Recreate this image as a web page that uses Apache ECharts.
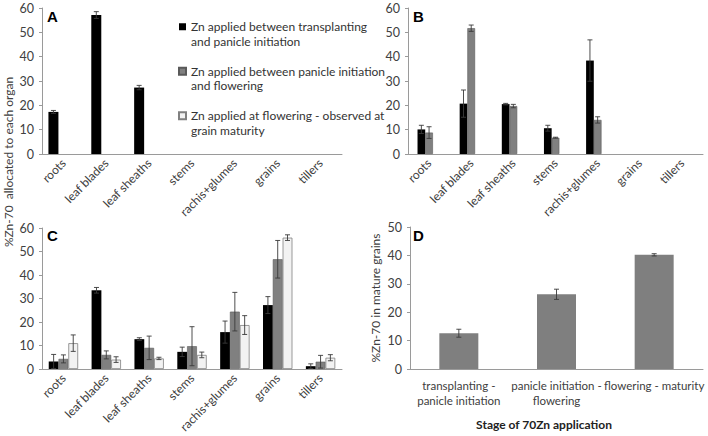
<!DOCTYPE html>
<html><head><meta charset="utf-8">
<script src="https://cdn.jsdelivr.net/npm/echarts@6/dist/echarts.min.js"></script>
<style>html,body{margin:0;padding:0;background:#fff}#c{width:708px;height:436px}</style>
</head><body><div id="c"></div>
<script>
// ---- data ----
const organs = ['roots', 'leaf blades', 'leaf sheaths', 'stems', 'rachis+glumes', 'grains', 'tillers'];
const seriesNames = [
  'Zn applied between transplanting and panicle initiation',
  'Zn applied between panicle initiation and flowering',
  'Zn applied at flowering - observed at grain maturity'
];
const legendLines = [
  ['Zn applied between transplanting', 'and panicle initiation'],
  ['Zn applied between panicle initiation', 'and flowering'],
  ['Zn applied at flowering - observed at', 'grain maturity']
];
const yTicks60 = [0, 10, 20, 30, 40, 50, 60];
const yTicks50 = [0, 10, 20, 30, 40, 50];

// Panel A
const A_black = [17.3, 57.1, 27.3, null, null, null, null];
const A_blackErr = [0.6, 1.4, 0.9, null, null, null, null];
const A_gray = [null, null, null, null, null, null, null];
const A_white = [null, null, null, null, null, null, null];

// Panel B
const B_black = [10.1, 20.7, 20.5, 10.6, 38.4, null, null];
const B_blackErr = [1.7, 5.6, 0.3, 1.2, 8.5, null, null];
const B_gray = [8.8, 51.7, 19.7, 6.7, 14.0, null, null];
const B_grayErr = [2.4, 1.3, 0.7, 0.2, 1.3, null, null];
const B_white = [null, null, null, null, null, null, null];

// Panel C
const C_black = [3.2, 33.5, 12.7, 7.3, 15.7, 27.2, 1.2];
const C_blackErr = [3.0, 1.2, 0.6, 2.0, 4.7, 3.6, 1.0];
const C_gray = [4.3, 6.0, 9.0, 9.7, 24.4, 46.7, 3.1];
const C_grayErr = [1.7, 1.7, 5.0, 8.3, 8.2, 8.0, 2.7];
const C_white = [11.0, 4.0, 4.5, 6.0, 18.7, 55.9, 4.8];
const C_whiteErr = [3.5, 1.2, 0.5, 1.2, 4.0, 1.2, 1.3];

// Panel D
const stages = ['transplanting -\npanicle initiation', 'panicle initiation -\nflowering', 'flowering - maturity'];
const D_values = [12.6, 26.3, 40.2];
const D_err = [1.4, 1.8, 0.4];

// ---- styling ----
const FONT = 'Lato';
const TXT = '#404040';
const AX = '#9a9a9a';
const barStyles = [
  { color: '#000000' },
  { color: '#808080', borderColor: '#5a5a5a', borderWidth: 0.6 },
  { color: '#f2f2f2', borderColor: '#808080', borderWidth: 0.8 }
];

const grids = [
  { left: 42, top: 8, width: 300, height: 146 },
  { left: 408, top: 8, width: 295, height: 146 },
  { left: 42, top: 228, width: 300, height: 141 },
  { left: 410, top: 227, width: 293, height: 142 }
];

function xCat(gi, data, isD) {
  return {
    type: 'category', gridIndex: gi, data: data,
    axisLine: { lineStyle: { color: AX, width: 1 } },
    axisTick: { length: 4, lineStyle: { color: AX } },
    axisLabel: isD ? { interval: 0, fontSize: 11.5, lineHeight: 15, color: TXT, margin: 9, fontFamily: FONT, hideOverlap: false }
                   : { interval: 0, rotate: 45, fontSize: 12, color: TXT, margin: 7, fontFamily: FONT }
  };
}
function yVal(gi, max, extra) {
  return Object.assign({
    type: 'value', gridIndex: gi, min: 0, max: max, interval: 10,
    axisLine: { show: true, lineStyle: { color: AX, width: 1 } },
    axisTick: { show: true, length: 3, lineStyle: { color: AX } },
    splitLine: { show: false },
    axisLabel: { fontSize: 12.5, color: TXT, margin: 8, fontFamily: FONT }
  }, extra || {});
}

function barSeries(gi, idx, values, bw) {
  return {
    type: 'bar', name: seriesNames[idx], xAxisIndex: gi, yAxisIndex: gi,
    data: values, barWidth: bw, barGap: '0%', itemStyle: barStyles[idx],
    animation: false, z: 2
  };
}
function errSeries(gi, idx, n, values, errs, bw) {
  const data = [];
  values.forEach((v, i) => { if (v != null && errs[i] != null) data.push([i, v, errs[i]]); });
  return {
    type: 'custom', xAxisIndex: gi, yAxisIndex: gi, data: data, z: 5, animation: false,
    encode: { x: 0, y: 1 }, clip: false,
    renderItem: function (params, api) {
      const i = api.value(0), v = api.value(1), e = api.value(2);
      const p = api.coord([i, v]);
      const x = p[0] + (idx - (n - 1) / 2) * bw;
      const top = api.coord([i, v + e])[1];
      const bot = api.coord([i, Math.max(v - e, 0)])[1];
      const cap = 2.5;
      const st = { stroke: '#3a3a3a', lineWidth: 0.9 };
      return {
        type: 'group', children: [
          { type: 'line', shape: { x1: x, y1: top, x2: x, y2: bot }, style: st },
          { type: 'line', shape: { x1: x - cap, y1: top, x2: x + cap, y2: top }, style: st },
          { type: 'line', shape: { x1: x - cap, y1: bot, x2: x + cap, y2: bot }, style: st }
        ]
      };
    }
  };
}

const series = [];
// A
const bwA = 10;
[A_black, A_gray, A_white].forEach((d, k) => series.push(barSeries(0, k, d, bwA)));
series.push(errSeries(0, 0, 3, A_black, A_blackErr, bwA));
// B
const bwB = 7.7;
[B_black, B_gray, B_white].forEach((d, k) => series.push(barSeries(1, k, d, bwB)));
series.push(errSeries(1, 0, 3, B_black, B_blackErr, bwB));
series.push(errSeries(1, 1, 3, B_gray, B_grayErr, bwB));
// C
const bwC = 9.8;
[C_black, C_gray, C_white].forEach((d, k) => series.push(barSeries(2, k, d, bwC)));
series.push(errSeries(2, 0, 3, C_black, C_blackErr, bwC));
series.push(errSeries(2, 1, 3, C_gray, C_grayErr, bwC));
series.push(errSeries(2, 2, 3, C_white, C_whiteErr, bwC));
// D
const bwD = 39;
series.push({
  type: 'bar', name: 'stage', xAxisIndex: 3, yAxisIndex: 3, data: D_values, barWidth: bwD,
  itemStyle: { color: '#7f7f7f' }, animation: false, z: 2
});
series.push(errSeries(3, 0, 1, D_values, D_err, bwD));

const chart = echarts.init(document.getElementById('c'), null, { renderer: 'svg' });
chart.setOption({
  animation: false,
  backgroundColor: '#ffffff',
  textStyle: { fontFamily: FONT },
  grid: grids,
  xAxis: [xCat(0, organs), xCat(1, organs), xCat(2, organs), xCat(3, stages, true)],
  yAxis: [
    yVal(0, 60), yVal(1, 60), yVal(2, 60),
    yVal(3, 50, {
      name: '%Zn-70 in mature grains', nameLocation: 'middle', nameRotate: 90, nameGap: 29,
      nameTextStyle: { fontSize: 12, color: TXT, fontFamily: FONT }
    })
  ],
  legend: {
    data: seriesNames, orient: 'vertical', left: 178, top: 5, padding: 0,
    itemWidth: 7, itemHeight: 7, itemGap: 1, icon: 'rect',
    selectedMode: false,
    textStyle: { fontSize: 12, lineHeight: 14.5, color: '#333', fontFamily: FONT },
    formatter: function (name) {
      const k = seriesNames.indexOf(name);
      return '\u00a0\n' + legendLines[k].join('\n');
    }
  },
  graphic: [
    { type: 'text', left: 47, top: 9, style: { text: 'A', font: 'bold 15px Arial', fill: '#000' } },
    { type: 'text', left: 413, top: 9, style: { text: 'B', font: 'bold 15px Arial', fill: '#000' } },
    { type: 'text', left: 47, top: 228, style: { text: 'C', font: 'bold 15px Arial', fill: '#000' } },
    { type: 'text', left: 413, top: 228, style: { text: 'D', font: 'bold 15px Arial', fill: '#000' } },
    { type: 'text', x: 8, y: 162, rotation: Math.PI / 2,
      style: { text: '%Zn-70  allocated to each organ', font: '12px ' + FONT, fill: TXT, align: 'center', verticalAlign: 'middle' } },
    { type: 'text', x: 544, y: 424,
      style: { text: 'Stage of 70Zn application', font: 'bold 12px ' + FONT, fill: '#222', align: 'center', verticalAlign: 'middle' } }
  ],
  series: series
});
</script>
</body></html>
